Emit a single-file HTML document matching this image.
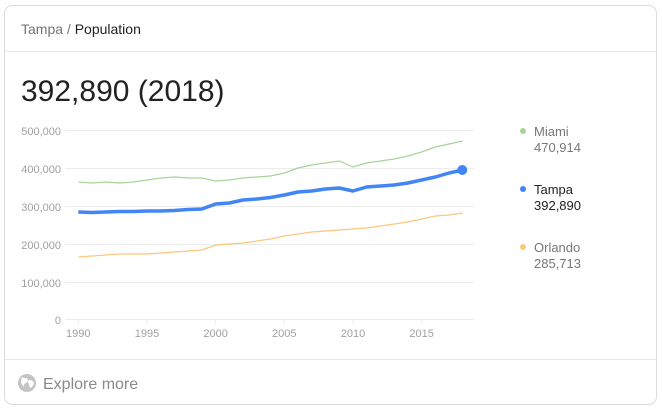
<!DOCTYPE html>
<html><head><meta charset="utf-8"><style>
html,body{margin:0;padding:0;background:#fff;}
svg{display:block;font-family:"Liberation Sans",Arial,sans-serif;}
</style></head><body>
<svg width="662" height="411" viewBox="0 0 662 411">
<rect x="4.5" y="5.5" width="652" height="399" rx="8" fill="#fff" stroke="#dadce0"/>
<line x1="5" y1="51.5" x2="656" y2="51.5" stroke="#e8e8e8"/>
<line x1="5" y1="359.5" x2="656" y2="359.5" stroke="#e8e8e8"/>
<text x="21" y="34" font-size="14" fill="#70757a">Tampa <tspan fill="#70757a">/</tspan> <tspan fill="#222">Population</tspan></text>
<text x="21" y="101" font-size="30" fill="#222">392,890 (2018)</text>
<g stroke="#ececec" stroke-width="1">
<line x1="65" y1="130.5" x2="474" y2="130.5"/>
<line x1="65" y1="168.5" x2="474" y2="168.5"/>
<line x1="65" y1="206.5" x2="474" y2="206.5"/>
<line x1="65" y1="244.5" x2="474" y2="244.5"/>
<line x1="65" y1="282.5" x2="474" y2="282.5"/>
<line x1="65" y1="319.5" x2="474" y2="319.5"/>
<line x1="78.3" y1="319" x2="78.3" y2="324"/>
<line x1="147" y1="319" x2="147" y2="324"/>
<line x1="215.6" y1="319" x2="215.6" y2="324"/>
<line x1="284.3" y1="319" x2="284.3" y2="324"/>
<line x1="353" y1="319" x2="353" y2="324"/>
<line x1="421.6" y1="319" x2="421.6" y2="324"/>
</g>
<g font-size="11" fill="#a0a0a0" text-anchor="end">
<text x="61" y="135">500,000</text>
<text x="61" y="173">400,000</text>
<text x="61" y="211">300,000</text>
<text x="61" y="249">200,000</text>
<text x="61" y="287">100,000</text>
<text x="61" y="324">0</text>
</g>
<g font-size="11" fill="#a0a0a0" text-anchor="middle">
<text x="78.3" y="337">1990</text>
<text x="147" y="337">1995</text>
<text x="215.6" y="337">2000</text>
<text x="284.3" y="337">2005</text>
<text x="353" y="337">2010</text>
<text x="421.6" y="337">2015</text>
</g>
<polyline fill="none" stroke="#a8d49a" stroke-width="1.2" points="78.3,182 92,183 105.8,182 119.5,183 133.2,182 147,180 160.7,178 174.4,177 188.1,178 201.9,178 215.6,181 229.3,180 243,178 256.8,177 270.5,176 284.3,173 298,168 311.7,165 325.4,163 339.2,161 352.9,167 366.6,163 380.3,161 394.1,159 407.8,156 421.6,152 435.3,147 449,144 462.7,141"/>
<polyline fill="none" stroke="#fbc77d" stroke-width="1.2" points="78.3,257 92,256 105.8,255 119.5,254 133.2,254 147,254 160.7,253 174.4,252 188.1,251 201.9,250 215.6,245 229.3,244 243,243 256.8,241 270.5,239 284.3,236 298,234 311.7,232 325.4,231 339.2,230 352.9,229 366.6,228 380.3,226 394.1,224 407.8,222 421.6,219 435.3,216 449,215 462.7,213"/>
<polyline fill="none" stroke="#4285f4" stroke-width="3.5" stroke-linejoin="round" points="78.3,212 92,212.5 105.8,212 119.5,211.5 133.2,211.5 147,211 160.7,211 174.4,210.5 188.1,209.5 201.9,209 215.6,204 229.3,203 243,200 256.8,199 270.5,197.5 284.3,195 298,192 311.7,191 325.4,189 339.2,188 352.9,191 366.6,187 380.3,186 394.1,185 407.8,183 421.6,180 435.3,177 449,173 462.7,170"/>
<circle cx="462.3" cy="170" r="5" fill="#4285f4"/>
<circle cx="523" cy="131" r="3" fill="#a8d49a"/>
<text x="534" y="136" font-size="13" fill="#777">Miami</text>
<text x="534" y="152" font-size="13" fill="#777">470,914</text>
<circle cx="523" cy="189" r="3" fill="#4285f4"/>
<text x="534" y="194" font-size="13" fill="#222">Tampa</text>
<text x="534" y="210" font-size="13" fill="#222">392,890</text>
<circle cx="523" cy="247" r="3" fill="#fbc77d"/>
<text x="534" y="252" font-size="13" fill="#777">Orlando</text>
<text x="534" y="268" font-size="13" fill="#777">285,713</text>
<circle cx="27" cy="383" r="9" fill="#c4c4c4"/>
<path d="M22,377 q3,2 5,1 q2,3 -1,5 q-3,1 -2,4 q-3,-3 -3,-6 z M29,380 q4,0 5,3 q-1,4 -4,5 q-1,-3 -1,-4 q-2,-2 0,-4z" fill="#fff"/>
<text x="43" y="389" font-size="16" fill="#8a8a8a">Explore more</text>
</svg>
</body></html>
